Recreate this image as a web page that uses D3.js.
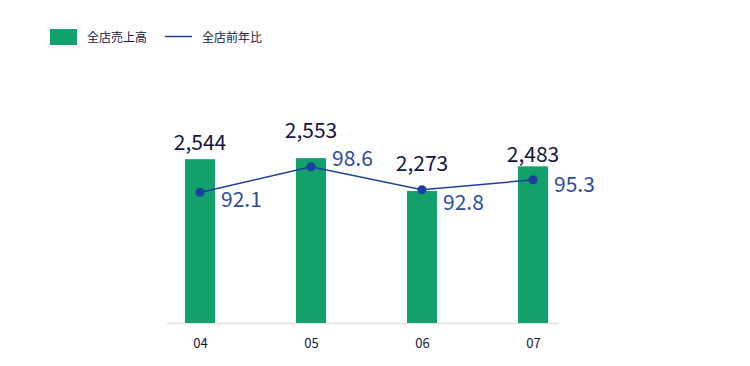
<!DOCTYPE html>
<html>
<head>
<meta charset="utf-8">
<script src="https://cdn.jsdelivr.net/npm/d3@7"></script>
<style>
  html, body { margin: 0; padding: 0; background: #fff; }
  svg { display: block; font-family: "Noto Sans CJK JP", "Noto Sans", sans-serif; }
</style>
</head>
<body>
<svg id="chart" width="750" height="366"></svg>
<script>
// ---- data ----
const categories = ["04", "05", "06", "07"];
const salesValues = [2544, 2553, 2273, 2483];       // 全店売上高
const yoyValues = [92.1, 98.6, 92.8, 95.3];          // 全店前年比
const seriesNames = ["全店売上高", "全店前年比"];

// ---- layout / style ----
const W = 750, H = 366;
const baseY = 323;
const barW = 30;
const green = "#12a06b";
const blue = "#1f3f9e";
const blueText = "#2a4da3";
const dark = "#161640";
const barLabelNudge = [-9, -20, -20, -4];
const lineLabelNudge = [14, -1, 20, 12];

const svg = d3.select("#chart");

const x = d3.scalePoint().domain(categories).range([200, 533]).padding(0);
const yBar = d3.scaleLinear().domain([1150, 3000]).range([baseY, 105.6]);
const yLine = d3.scaleLinear().domain([80, 100]).range([240.5, 161.2]);

// baseline
svg.append("line")
  .attr("x1", 167).attr("x2", 559)
  .attr("y1", baseY + 0.5).attr("y2", baseY + 0.5)
  .attr("stroke", "#e2e2e2").attr("stroke-width", 1.5);

// bars
svg.append("g").selectAll("rect")
  .data(salesValues)
  .join("rect")
  .attr("x", (d, i) => x(categories[i]) - barW / 2)
  .attr("y", d => yBar(d))
  .attr("width", barW)
  .attr("height", d => baseY - yBar(d))
  .attr("fill", green);

// bar labels
svg.append("g").selectAll("text")
  .data(salesValues)
  .join("text")
  .attr("x", (d, i) => x(categories[i]))
  .attr("y", (d, i) => yBar(d) + barLabelNudge[i])
  .attr("text-anchor", "middle")
  .attr("font-size", 21)
  .attr("fill", dark)
  .text(d => d3.format(",")(d));

// line
const lineGen = d3.line()
  .x((d, i) => x(categories[i]))
  .y(d => yLine(d));
svg.append("path")
  .datum(yoyValues)
  .attr("d", lineGen)
  .attr("fill", "none")
  .attr("stroke", blue)
  .attr("stroke-width", 1.5);

svg.append("g").selectAll("circle")
  .data(yoyValues)
  .join("circle")
  .attr("cx", (d, i) => x(categories[i]))
  .attr("cy", d => yLine(d))
  .attr("r", 4.6)
  .attr("fill", blue);

// line labels
svg.append("g").selectAll("text")
  .data(yoyValues)
  .join("text")
  .attr("x", (d, i) => x(categories[i]) + 21)
  .attr("y", (d, i) => yLine(d) + lineLabelNudge[i])
  .attr("font-size", 21)
  .attr("fill", blueText)
  .text(d => d3.format(".1f")(d));

// x axis labels
const axis = d3.axisBottom(x).tickSize(0).tickPadding(0);
const gAxis = svg.append("g").attr("transform", `translate(0,${baseY})`).call(axis);
gAxis.select(".domain").remove();
gAxis.selectAll("text")
  .attr("dy", null)
  .attr("y", 24.5)
  .attr("font-size", 13)
  .attr("font-family", "\"Noto Sans CJK JP\", \"Noto Sans\", sans-serif")
  .attr("fill", dark);

// legend
const leg = svg.append("g");
leg.append("rect").attr("x", 50).attr("y", 29).attr("width", 27).attr("height", 16).attr("fill", green);
leg.append("text").attr("x", 87).attr("y", 36.5).attr("dominant-baseline", "central")
  .attr("font-size", 12).attr("fill", dark).text(seriesNames[0]);
leg.append("line").attr("x1", 165).attr("x2", 192).attr("y1", 36.5).attr("y2", 36.5)
  .attr("stroke", blue).attr("stroke-width", 1.5);
leg.append("text").attr("x", 202).attr("y", 36.5).attr("dominant-baseline", "central")
  .attr("font-size", 12).attr("fill", dark).text(seriesNames[1]);
</script>
</body>
</html>
